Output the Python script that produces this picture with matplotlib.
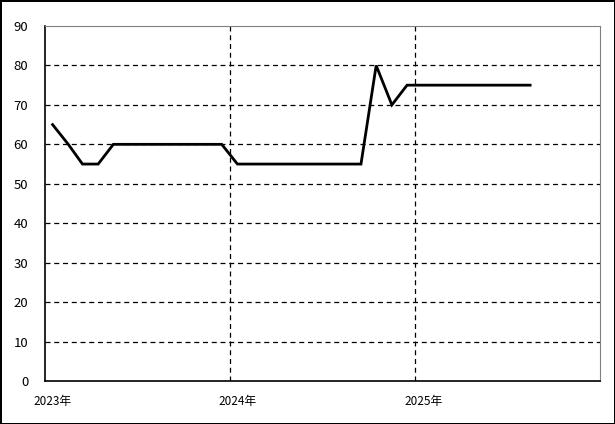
import datetime as dt

import matplotlib
matplotlib.use("Agg")
import matplotlib.pyplot as plt
import matplotlib.transforms as mtransforms

plt.rcParams["font.family"] = ["Noto Sans CJK JP", "DejaVu Sans"]

# monthly values, Jan 2023 .. Aug 2025
months = [dt.date(2023 + i // 12, i % 12 + 1, 16) for i in range(32)]
values = [65, 60, 55, 55, 60, 60, 60, 60, 60, 60, 60, 60,
          55, 55, 55, 55, 55, 55, 55, 55, 55, 80, 70, 75,
          75, 75, 75, 75, 75, 75, 75, 75]
year_ticks = [dt.date(2023, 1, 1), dt.date(2024, 1, 1), dt.date(2025, 1, 1)]
year_labels = ["2023年", "2024年", "2025年"]
y_ticks = list(range(0, 100, 10))

fig = plt.figure(figsize=(6.15, 4.24), dpi=100)
fig.patch.set_edgecolor("black")
fig.patch.set_linewidth(2)
ax = fig.add_axes([45 / 615, 1 - 381 / 424, 555 / 615, 355 / 424])

ax.plot(months, values, color="black", lw=2, solid_joinstyle="miter")

ax.set_xlim(dt.date(2023, 1, 1), dt.date(2026, 1, 1))
ax.set_ylim(0, 90)
ax.set_yticks(y_ticks)
ax.set_xticks(year_ticks)
ax.set_xticklabels(year_labels, fontsize=8.5)
ax.tick_params(axis="y", length=0, pad=12, labelsize=9.5)
ax.tick_params(axis="x", length=0, pad=10)
offset = mtransforms.ScaledTranslation(8 / 100, 0, fig.dpi_scale_trans)
for lab in ax.get_xticklabels():
    lab.set_transform(lab.get_transform() + offset)

ax.grid(True, color="black", linestyle=(0, (4, 3)), linewidth=0.9)
ax.set_axisbelow(True)
# the gridlines that sit on the spines are not shown
ax.xaxis.get_gridlines()[0].set_visible(False)
ax.yaxis.get_gridlines()[0].set_visible(False)
ax.yaxis.get_gridlines()[-1].set_visible(False)
for side in ("left", "bottom"):
    ax.spines[side].set_color("black")
    ax.spines[side].set_linewidth(1.2)
for side in ("top", "right"):
    ax.spines[side].set_color("#808080")
    ax.spines[side].set_linewidth(0.8)

fig.savefig("out.png", dpi=100, edgecolor=fig.get_edgecolor())
